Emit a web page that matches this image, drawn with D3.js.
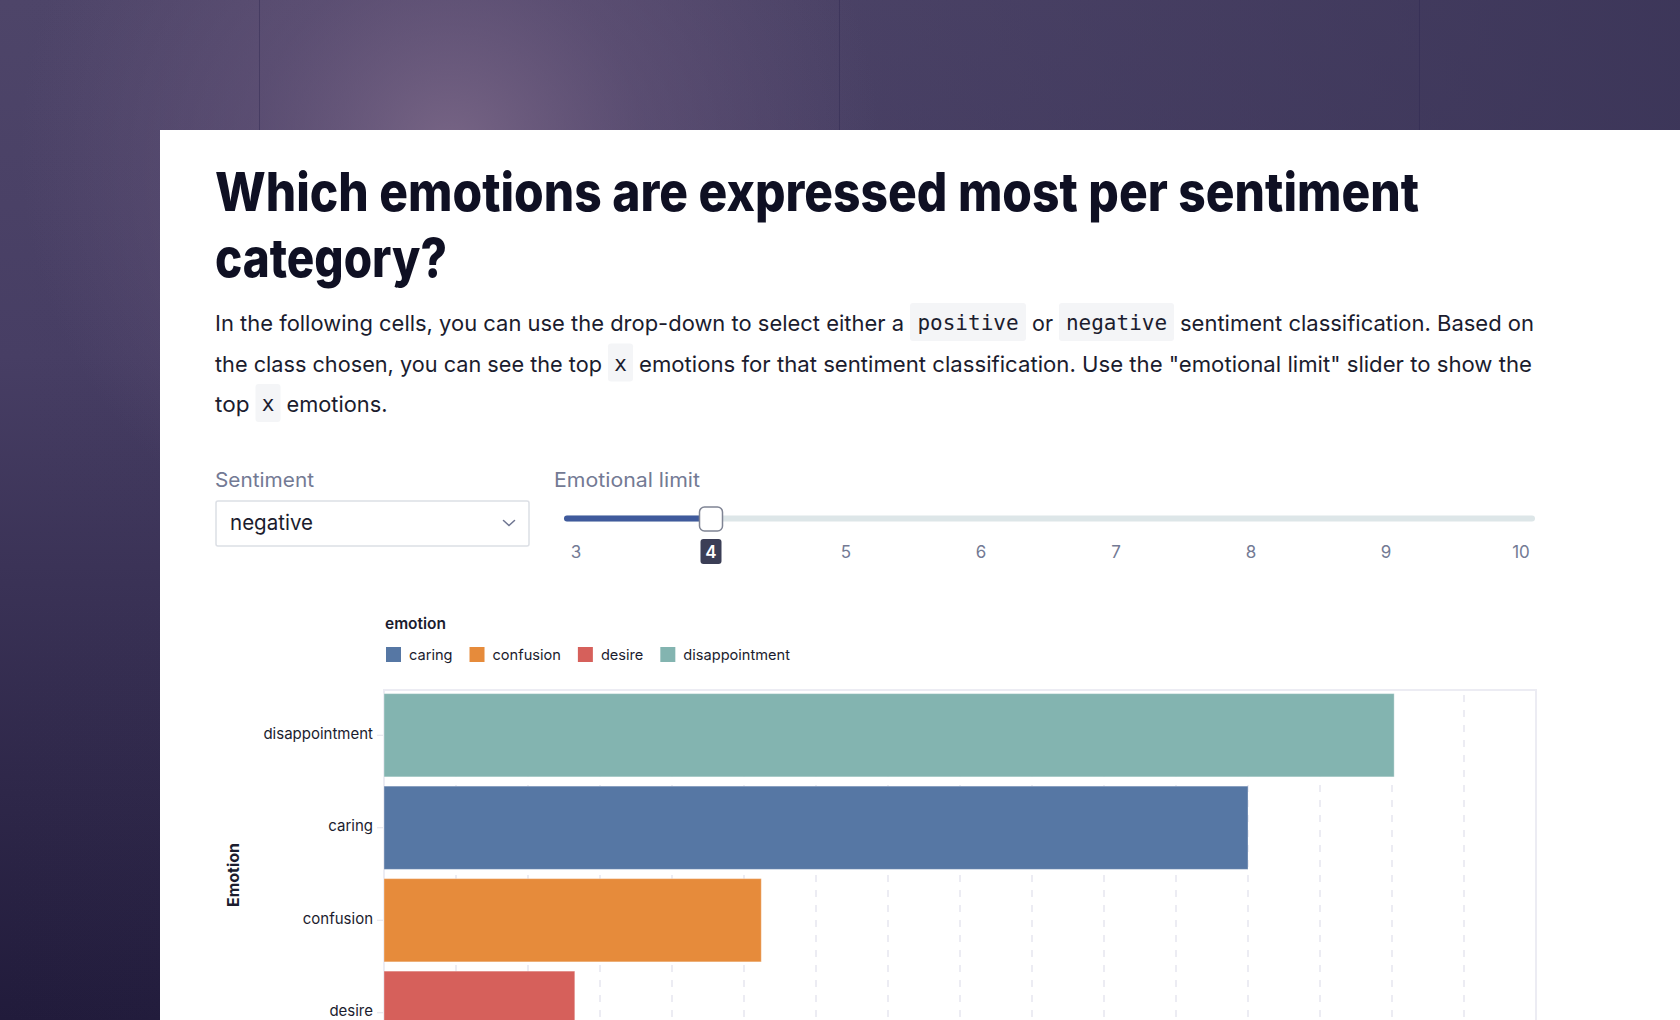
<!DOCTYPE html>
<html>
<head>
<meta charset="utf-8">
<script src="https://cdn.jsdelivr.net/npm/d3@7"></script>
<style>
  html, body { margin: 0; padding: 0; background: #2c2546; overflow: hidden; }
  svg { display: block; }
</style>
</head>
<body>
<div id="root"></div>
<script>
// ---------------- DATA ----------------
const emotions = ["disappointment", "caring", "confusion", "desire"];
const counts = [1403, 1200, 524, 265];
const legendDomain = ["caring", "confusion", "desire", "disappointment"];
const legendColors = ["#5677a4", "#e68b3b", "#d6605b", "#83b4b0"];
const sliderTicks = [3, 4, 5, 6, 7, 8, 9, 10];
const sliderValue = 4;
const sentimentValue = "negative";
const titleLines = ["Which emotions are expressed most per sentiment", "category?"];
const paragraphLines = [
  [{t: "In the following cells, you can use the drop-down to select either a", w: 689},
   {code: "positive", w: 116},
   {t: "or", w: 21},
   {code: "negative", w: 115},
   {t: "sentiment classification. Based on", w: 354}],
  [{t: "the class chosen, you can see the top", w: 387},
   {code: "x", w: 25},
   {t: "emotions for that sentiment classification. Use the \"emotional limit\" slider to show the", w: 893}],
  [{t: "top", w: 34.5},
   {code: "x", w: 25},
   {t: "emotions.", w: 101}]
];

// ---------------- SETUP ----------------
const W = 1680, H = 1020;
const svg = d3.select("#root").append("svg").attr("width", W).attr("height", H);
const defs = svg.append("defs");

const SANS = "Inter, 'Noto Sans', 'Open Sans', sans-serif";
const MONO = "'DejaVu Sans Mono', 'Liberation Mono', monospace";
const INK = "#1b1c2e";
const MUTED = "#737a94";

// Background gradients
const vg = defs.append("linearGradient").attr("id", "bgV").attr("x1", 0).attr("y1", 0).attr("x2", 0).attr("y2", 1);
vg.append("stop").attr("offset", 0).attr("stop-color", "#4e4569");
vg.append("stop").attr("offset", 0.35).attr("stop-color", "#473e64");
vg.append("stop").attr("offset", 1).attr("stop-color", "#211b3b");
const hg = defs.append("linearGradient").attr("id", "bgH").attr("x1", 0).attr("y1", 0).attr("x2", 1).attr("y2", 0);
hg.append("stop").attr("offset", 0).attr("stop-color", "#3a3457").attr("stop-opacity", 0);
hg.append("stop").attr("offset", 0.5).attr("stop-color", "#3a3457").attr("stop-opacity", 0.2);
hg.append("stop").attr("offset", 1).attr("stop-color", "#3a3457").attr("stop-opacity", 0.85);
const rg = defs.append("radialGradient").attr("id", "bgR").attr("gradientUnits", "userSpaceOnUse")
  .attr("cx", 450).attr("cy", 150).attr("r", 430);
rg.append("stop").attr("offset", 0).attr("stop-color", "#7a6787").attr("stop-opacity", 0.95);
rg.append("stop").attr("offset", 0.45).attr("stop-color", "#6e5c80").attr("stop-opacity", 0.45);
rg.append("stop").attr("offset", 1).attr("stop-color", "#6e5c80").attr("stop-opacity", 0);

svg.append("rect").attr("width", W).attr("height", H).attr("fill", "url(#bgV)");
svg.append("rect").attr("width", W).attr("height", H).attr("fill", "url(#bgH)");
svg.append("rect").attr("width", W).attr("height", H).attr("fill", "url(#bgR)");
[259, 839, 1419].forEach(x => {
  svg.append("line").attr("x1", x + 0.5).attr("x2", x + 0.5).attr("y1", 0).attr("y2", 130)
    .attr("stroke", "#2e2750").attr("stroke-opacity", 0.45).attr("stroke-width", 1);
});

// Card
svg.append("rect").attr("x", 160).attr("y", 130).attr("width", W - 160).attr("height", H - 130).attr("fill", "#ffffff");

// ---------------- TITLE ----------------
const title = svg.append("g");
title.append("text").attr("x", 215).attr("y", 211)
  .attr("font-family", SANS).attr("font-weight", 800).attr("font-size", 54).attr("fill", "#0f1023")
  .attr("textLength", 1204).attr("lengthAdjust", "spacingAndGlyphs").text(titleLines[0]);
title.append("text").attr("x", 215).attr("y", 277)
  .attr("font-family", SANS).attr("font-weight", 800).attr("font-size", 54).attr("fill", "#0f1023")
  .attr("textLength", 232).attr("lengthAdjust", "spacingAndGlyphs").text(titleLines[1]);

// ---------------- PARAGRAPH ----------------
const para = svg.append("g");
paragraphLines.forEach((line, i) => {
  const top = 303 + 40.5 * i;
  const base = top + 28;
  let x = 215;
  line.forEach((seg, j) => {
    if (seg.code) {
      para.append("rect").attr("x", x - 3).attr("y", top).attr("width", seg.w).attr("height", 38)
        .attr("rx", 3).attr("fill", "#f4f5f7");
      para.append("text").attr("x", x - 3 + seg.w / 2).attr("y", base - 1).attr("text-anchor", "middle")
        .attr("font-family", MONO).attr("font-size", 21).attr("fill", INK).text(seg.code);
      x += seg.w - 3 + 6;
    } else {
      para.append("text").attr("x", x).attr("y", base)
        .attr("font-family", SANS).attr("font-size", 22).attr("fill", INK)
        .attr("textLength", seg.w).attr("lengthAdjust", "spacingAndGlyphs").text(seg.t);
      x += seg.w + 9;
    }
  });
});

// ---------------- CONTROLS ----------------
const ctl = svg.append("g");
ctl.append("text").attr("x", 215).attr("y", 487).attr("font-family", SANS).attr("font-size", 20)
  .attr("fill", MUTED).attr("textLength", 99).attr("lengthAdjust", "spacingAndGlyphs").text("Sentiment");
ctl.append("text").attr("x", 554).attr("y", 487).attr("font-family", SANS).attr("font-size", 20)
  .attr("fill", MUTED).attr("textLength", 146).attr("lengthAdjust", "spacingAndGlyphs").text("Emotional limit");

ctl.append("rect").attr("x", 216).attr("y", 501).attr("width", 313).attr("height", 45).attr("rx", 2)
  .attr("fill", "#fff").attr("stroke", "#dcdfe5").attr("stroke-width", 1.5);
ctl.append("text").attr("x", 230).attr("y", 530).attr("font-family", SANS).attr("font-size", 21)
  .attr("fill", INK).attr("textLength", 83).attr("lengthAdjust", "spacingAndGlyphs").text(sentimentValue);
ctl.append("path").attr("d", "M503.5,520.5 L509,525.5 L514.5,520.5").attr("fill", "none")
  .attr("stroke", "#6e7591").attr("stroke-width", 1.5).attr("stroke-linecap", "round");

// Slider
const sx = d3.scaleLinear().domain(d3.extent(sliderTicks)).range([576, 1521]);
ctl.append("rect").attr("x", 564).attr("y", 515.5).attr("width", 1535 - 564).attr("height", 6).attr("rx", 3)
  .attr("fill", "#dde6e8");
ctl.append("rect").attr("x", 564).attr("y", 515.5).attr("width", sx(sliderValue) - 564).attr("height", 6).attr("rx", 3)
  .attr("fill", "#3f5a9c");
ctl.append("rect").attr("x", sx(sliderValue) - 11.5).attr("y", 507).attr("width", 23).attr("height", 24).attr("rx", 5)
  .attr("fill", "#fff").attr("stroke", "#7f8494").attr("stroke-width", 1.5);

const tickG = ctl.selectAll("g.stick").data(sliderTicks).join("g").attr("class", "stick")
  .attr("transform", d => `translate(${sx(d)},0)`);
tickG.filter(d => d === sliderValue).append("rect")
  .attr("x", -10.5).attr("y", 539).attr("width", 21).attr("height", 25).attr("rx", 3).attr("fill", "#3b3e56");
tickG.append("text").attr("y", 558).attr("text-anchor", "middle")
  .attr("font-family", SANS).attr("font-size", 17)
  .attr("font-weight", d => d === sliderValue ? 600 : 400)
  .attr("fill", d => d === sliderValue ? "#ffffff" : MUTED).text(d => d);

// ---------------- CHART ----------------
const chart = svg.append("g");
const x = d3.scaleLinear().domain([0, 1600]).range([384, 1536]);
const y = d3.scaleBand().domain(emotions).range([689, 1059]).paddingInner(0.1).paddingOuter(0.05);
const color = d3.scaleOrdinal().domain(legendDomain).range(legendColors);

// frame
chart.append("rect").attr("x", 384).attr("y", 690).attr("width", 1536 - 384).attr("height", 420)
  .attr("fill", "none").attr("stroke", "#ececf3").attr("stroke-width", 2);

// gridlines (x axis itself lies below the visible area)
chart.append("g").selectAll("line").data(x.ticks(16).filter(d => d > 0 && d < 1600)).join("line")
  .attr("x1", d => x(d)).attr("x2", d => x(d)).attr("y1", 695).attr("y2", 1110)
  .attr("stroke", "#e6e6ef").attr("stroke-width", 1.5).attr("stroke-dasharray", "7,8");

// bars
chart.append("g").selectAll("rect").data(emotions).join("rect")
  .attr("x", x(0)).attr("y", d => y(d))
  .attr("width", (d, i) => x(counts[i]) - x(0)).attr("height", y.bandwidth())
  .attr("fill", d => color(d)).attr("stroke", "#ffffff").attr("stroke-opacity", 0.35).attr("stroke-width", 1);

// y axis
const yAxis = chart.append("g").attr("transform", "translate(383,0)")
  .call(d3.axisLeft(y).tickSize(6).tickPadding(4));
yAxis.select(".domain").remove();
yAxis.selectAll(".tick line").attr("stroke", "#e2e2ea");
yAxis.selectAll(".tick text").attr("dy", "0.22em").attr("font-family", SANS).attr("font-size", 15).attr("fill", INK);

chart.append("text").attr("transform", "translate(239,875) rotate(-90)").attr("text-anchor", "middle")
  .attr("font-family", SANS).attr("font-weight", 700).attr("font-size", 16).attr("fill", INK)
  .attr("textLength", 64).attr("lengthAdjust", "spacingAndGlyphs").text("Emotion");

// legend
const legend = chart.append("g");
legend.append("text").attr("x", 385).attr("y", 629).attr("font-family", SANS).attr("font-weight", 600)
  .attr("font-size", 15.5).attr("fill", INK).text("emotion");
let lx = 386;
legendDomain.forEach(d => {
  legend.append("rect").attr("x", lx).attr("y", 647).attr("width", 15).attr("height", 15).attr("fill", color(d));
  const t = legend.append("text").attr("x", lx + 23).attr("y", 659.5).attr("font-family", SANS)
    .attr("font-size", 14.6).attr("fill", INK).text(d);
  const w = t.node().getComputedTextLength();
  lx = lx + 23 + w + 17;
});
</script>
</body>
</html>
